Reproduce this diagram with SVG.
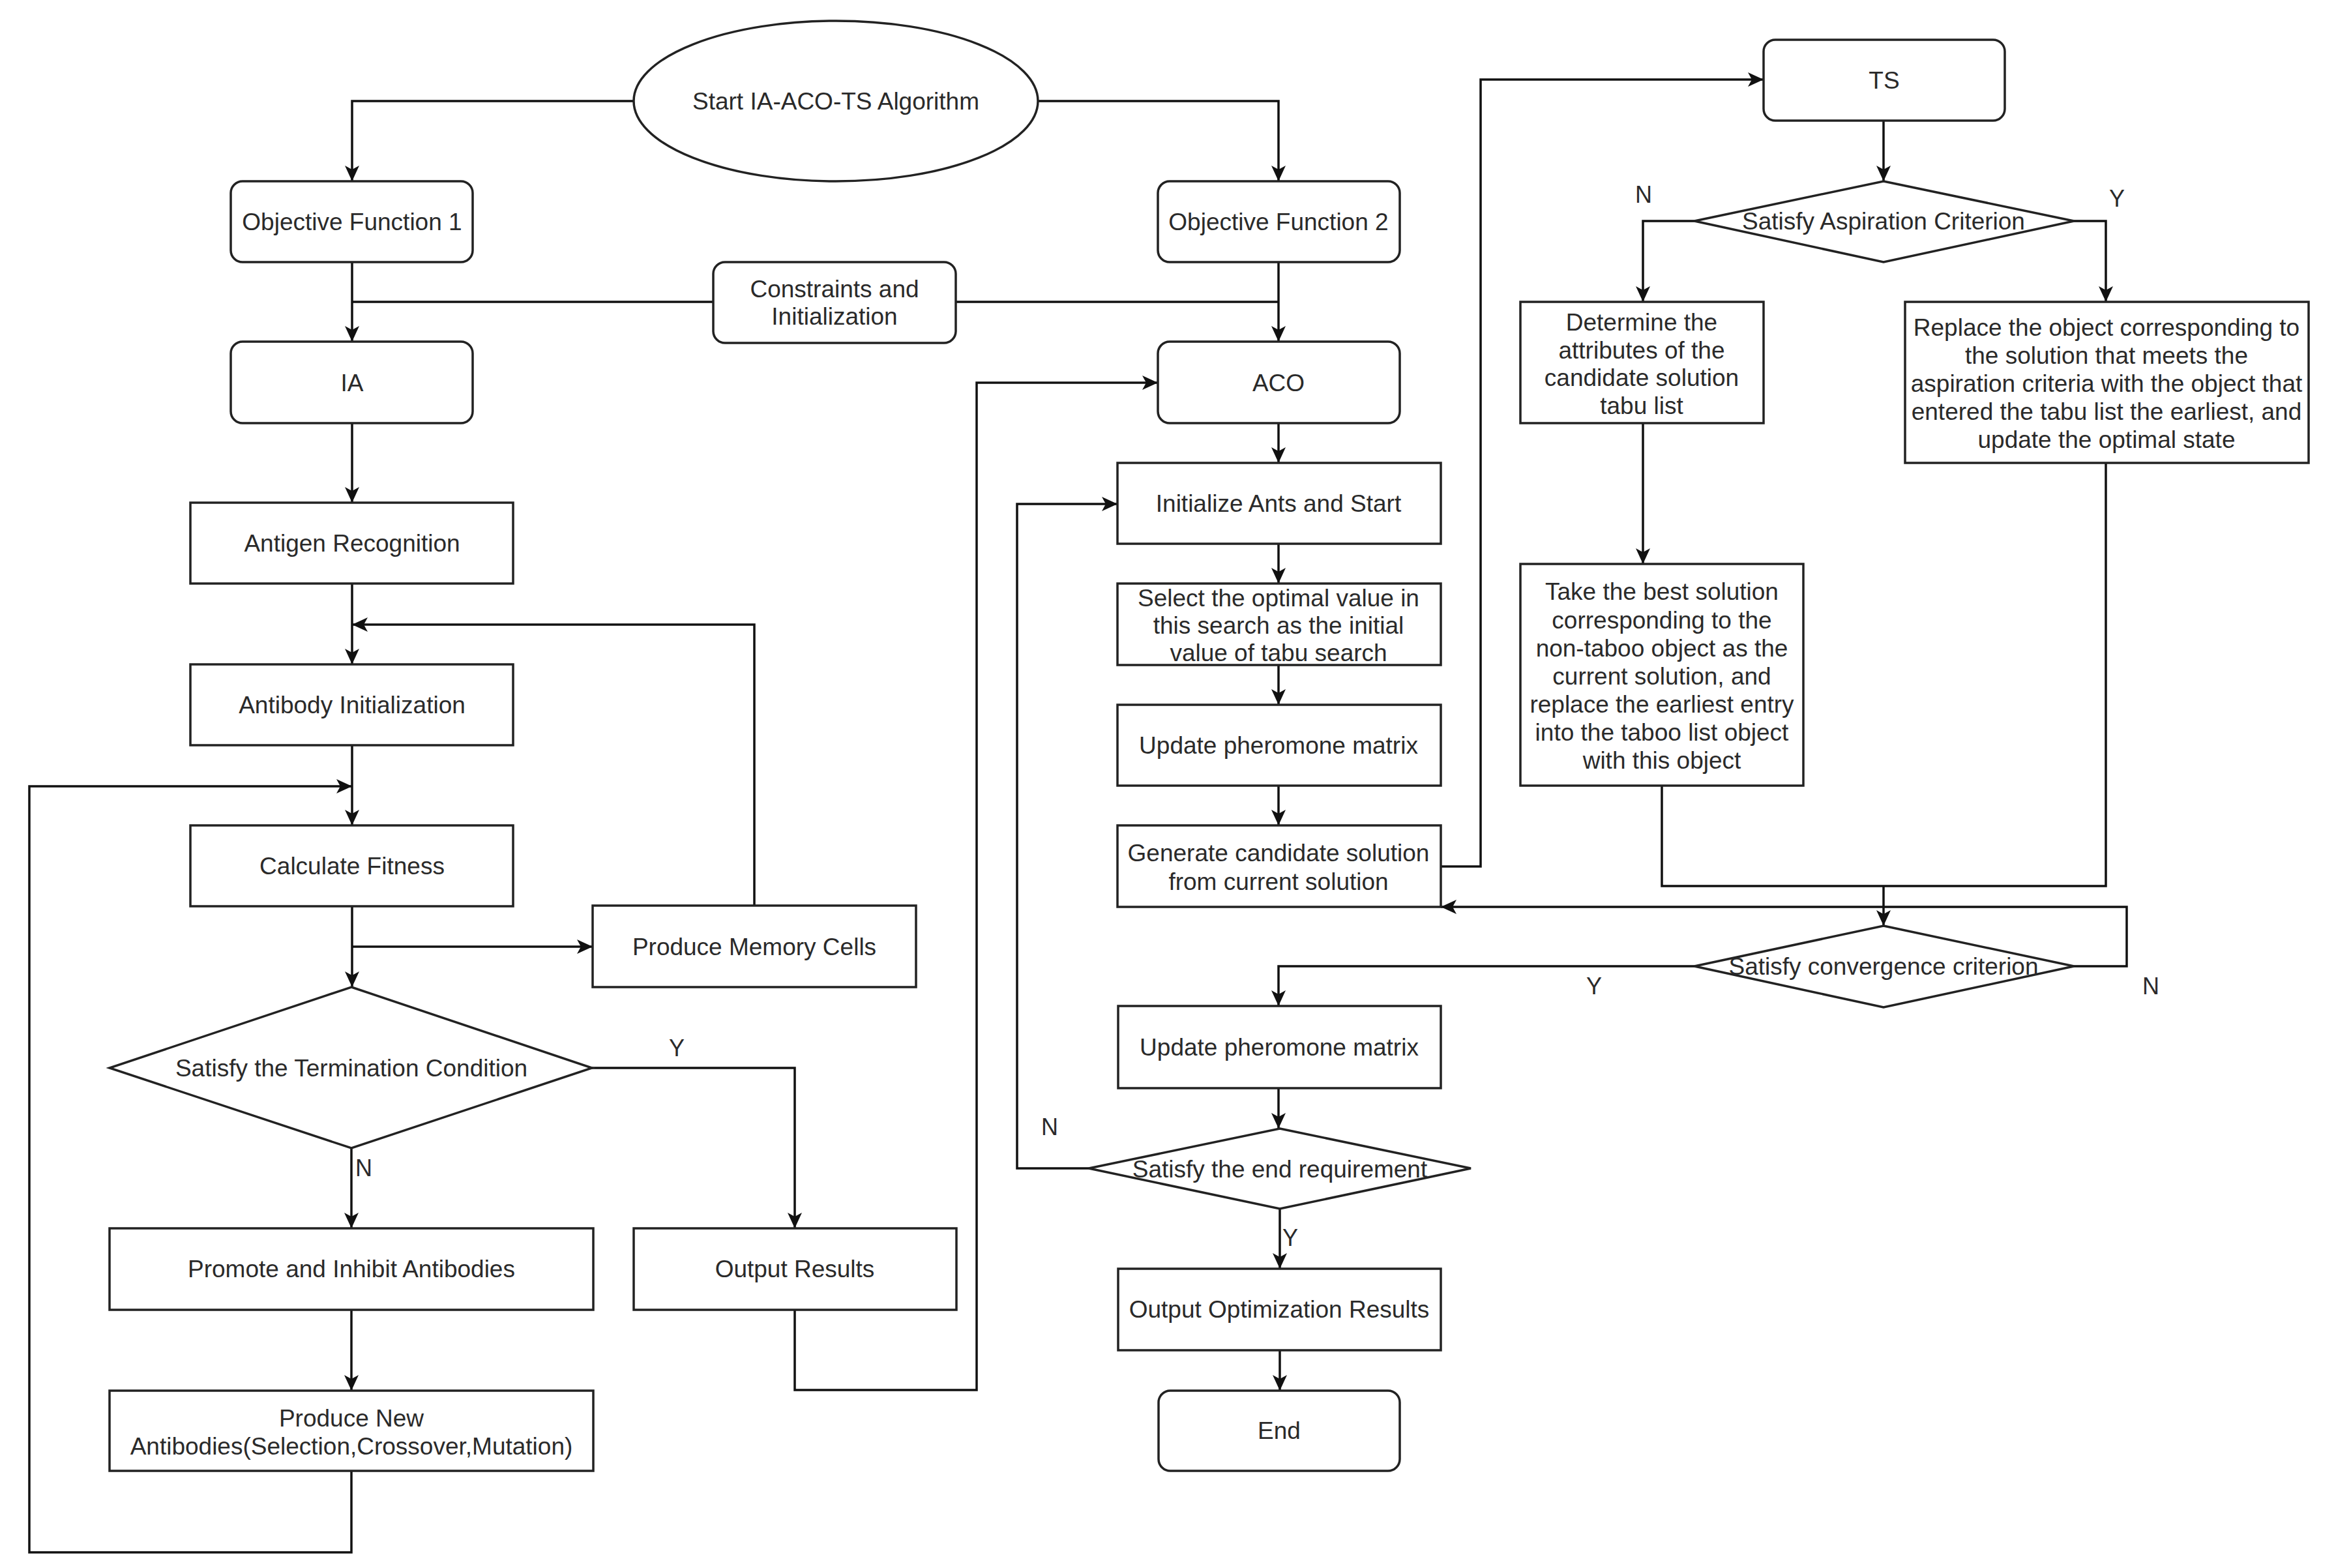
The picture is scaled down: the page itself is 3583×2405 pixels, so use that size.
<svg xmlns="http://www.w3.org/2000/svg" width="3583" height="2405" viewBox="0 0 3583 2405">
<style>
.n{fill:#fff;stroke:#222;stroke-width:3.5}
.t{font-family:"Liberation Sans",Arial,sans-serif;font-size:37px;fill:#2a2a2a;text-anchor:middle;dominant-baseline:central}
.l{font-family:"Liberation Sans",Arial,sans-serif;font-size:36px;fill:#2a2a2a;dominant-baseline:central}
.c{fill:none;stroke:#111;stroke-width:3.5}
</style>
<defs>
<marker id="a" markerUnits="userSpaceOnUse" markerWidth="30" markerHeight="30" viewBox="-2 -14 30 28" refX="24" refY="0" orient="auto">
<path d="M0,-11 L24,0 L0,11 L6,0 Z" fill="#111"/>
</marker>
</defs>
<rect width="3583" height="2405" fill="#fff"/>
<g id="connectors">
<path class="c" d="M972,155 H540 V278" marker-end="url(#a)"/>
<path class="c" d="M1592,155 H1961 V278" marker-end="url(#a)"/>
<path class="c" d="M540,402 V524" marker-end="url(#a)"/>
<path class="c" d="M1094,463 H540"/>
<path class="c" d="M1961,402 V524" marker-end="url(#a)"/>
<path class="c" d="M1466,463 H1961"/>
<path class="c" d="M540,649 V771" marker-end="url(#a)"/>
<path class="c" d="M540,895 V1019" marker-end="url(#a)"/>
<path class="c" d="M1157,1389 V958 H540" marker-end="url(#a)"/>
<path class="c" d="M540,1143 V1266" marker-end="url(#a)"/>
<path class="c" d="M539,2256 V2381 H45 V1206 H540" marker-end="url(#a)"/>
<path class="c" d="M540,1390 V1514" marker-end="url(#a)"/>
<path class="c" d="M540,1452 H909" marker-end="url(#a)"/>
<path class="c" d="M908,1638 H1219 V1884" marker-end="url(#a)"/>
<path class="c" d="M539,1761 V1884" marker-end="url(#a)"/>
<path class="c" d="M539,2009 V2133" marker-end="url(#a)"/>
<path class="c" d="M1219,2009 V2132 H1498 V587 H1776" marker-end="url(#a)"/>
<path class="c" d="M1961,649 V710" marker-end="url(#a)"/>
<path class="c" d="M1961,834 V895" marker-end="url(#a)"/>
<path class="c" d="M1961,1020 V1081" marker-end="url(#a)"/>
<path class="c" d="M1961,1205 V1266" marker-end="url(#a)"/>
<path class="c" d="M2210,1329 H2271 V122 H2705" marker-end="url(#a)"/>
<path class="c" d="M2889,185 V278" marker-end="url(#a)"/>
<path class="c" d="M2599,339 H2520 V463" marker-end="url(#a)"/>
<path class="c" d="M3181,339 H3230 V463" marker-end="url(#a)"/>
<path class="c" d="M2520,649 V865" marker-end="url(#a)"/>
<path class="c" d="M2549,1205 V1359 H3230 V710"/>
<path class="c" d="M2889,1359 V1420" marker-end="url(#a)"/>
<path class="c" d="M3181,1482 H3262 V1391 H2210" marker-end="url(#a)"/>
<path class="c" d="M2599,1482 H1961 V1543" marker-end="url(#a)"/>
<path class="c" d="M1961,1669 V1731" marker-end="url(#a)"/>
<path class="c" d="M1670,1792 H1560 V773 H1714" marker-end="url(#a)"/>
<path class="c" d="M1963,1854 V1946" marker-end="url(#a)"/>
<path class="c" d="M1963,2071 V2133" marker-end="url(#a)"/>
<text class="l" x="1026" y="1607">Y</text>
<text class="l" x="545" y="1791">N</text>
<text class="l" x="2508" y="298">N</text>
<text class="l" x="3235" y="304">Y</text>
<text class="l" x="2433" y="1512">Y</text>
<text class="l" x="3286" y="1512">N</text>
<text class="l" x="1597" y="1728">N</text>
<text class="l" x="1967" y="1898">Y</text>
</g>
<g id="start"><ellipse class="n" cx="1282" cy="155" rx="310" ry="123"/><text class="t" x="1282" y="155">Start IA-ACO-TS Algorithm</text></g>
<g id="obj1"><rect class="n" x="354" y="278" width="371" height="124" rx="18"/><text class="t" x="540" y="340">Objective Function 1</text></g>
<g id="obj2"><rect class="n" x="1776" y="278" width="371" height="124" rx="18"/><text class="t" x="1961" y="340">Objective Function 2</text></g>
<g id="constraints"><rect class="n" x="1094" y="402" width="372" height="124" rx="18"/><text class="t" x="1280" y="443">Constraints and</text><text class="t" x="1280" y="485">Initialization</text></g>
<g id="ia"><rect class="n" x="354" y="524" width="371" height="125" rx="18"/><text class="t" x="540" y="587">IA</text></g>
<g id="aco"><rect class="n" x="1776" y="524" width="371" height="125" rx="18"/><text class="t" x="1961" y="587">ACO</text></g>
<g id="antigen"><rect class="n" x="292" y="771" width="495" height="124"/><text class="t" x="540" y="833">Antigen Recognition</text></g>
<g id="antibody"><rect class="n" x="292" y="1019" width="495" height="124"/><text class="t" x="540" y="1081">Antibody Initialization</text></g>
<g id="fitness"><rect class="n" x="292" y="1266" width="495" height="124"/><text class="t" x="540" y="1328">Calculate Fitness</text></g>
<g id="memory"><rect class="n" x="909" y="1389" width="496" height="125"/><text class="t" x="1157" y="1452">Produce Memory Cells</text></g>
<g id="termination"><polygon class="n" points="539,1514 908,1638 539,1761 168,1638"/><text class="t" x="539" y="1638">Satisfy the Termination Condition</text></g>
<g id="promote"><rect class="n" x="168" y="1884" width="742" height="125"/><text class="t" x="539" y="1946">Promote and Inhibit Antibodies</text></g>
<g id="output"><rect class="n" x="972" y="1884" width="495" height="125"/><text class="t" x="1219" y="1946">Output Results</text></g>
<g id="produce-new"><rect class="n" x="168" y="2133" width="742" height="123"/><text class="t" x="539" y="2175">Produce New</text><text class="t" x="539" y="2218">Antibodies(Selection,Crossover,Mutation)</text></g>
<g id="init-ants"><rect class="n" x="1714" y="710" width="496" height="124"/><text class="t" x="1961" y="772">Initialize Ants and Start</text></g>
<g id="select"><rect class="n" x="1714" y="895" width="496" height="125"/><text class="t" x="1961" y="917">Select the optimal value in</text><text class="t" x="1961" y="959">this search as the initial</text><text class="t" x="1961" y="1001">value of tabu search</text></g>
<g id="update1"><rect class="n" x="1714" y="1081" width="496" height="124"/><text class="t" x="1961" y="1143">Update pheromone matrix</text></g>
<g id="generate"><rect class="n" x="1714" y="1266" width="496" height="125"/><text class="t" x="1961" y="1308">Generate candidate solution</text><text class="t" x="1961" y="1352">from current solution</text></g>
<g id="update2"><rect class="n" x="1715" y="1543" width="495" height="126"/><text class="t" x="1962" y="1606">Update pheromone matrix</text></g>
<g id="end-req"><polygon class="n" points="1963,1731 2256,1792 1963,1854 1670,1792"/><text class="t" x="1963" y="1793">Satisfy the end requirement</text></g>
<g id="output-opt"><rect class="n" x="1715" y="1946" width="495" height="125"/><text class="t" x="1962" y="2008">Output Optimization Results</text></g>
<g id="end"><rect class="n" x="1777" y="2133" width="370" height="123" rx="18"/><text class="t" x="1962" y="2194">End</text></g>
<g id="ts"><rect class="n" x="2705" y="61" width="370" height="124" rx="18"/><text class="t" x="2890" y="123">TS</text></g>
<g id="aspiration"><polygon class="n" points="2889,278 3181,339 2889,402 2599,339"/><text class="t" x="2889" y="339">Satisfy Aspiration Criterion</text></g>
<g id="determine"><rect class="n" x="2332" y="463" width="373" height="186"/><text class="t" x="2518" y="494">Determine the</text><text class="t" x="2518" y="537">attributes of the</text><text class="t" x="2518" y="579">candidate solution</text><text class="t" x="2518" y="622">tabu list</text></g>
<g id="replace"><rect class="n" x="2922" y="463" width="619" height="247"/><text class="t" x="3231" y="502">Replace the object corresponding to</text><text class="t" x="3231" y="545">the solution that meets the</text><text class="t" x="3231" y="588">aspiration criteria with the object that</text><text class="t" x="3231" y="631">entered the tabu list the earliest, and</text><text class="t" x="3231" y="674">update the optimal state</text></g>
<g id="take-best"><rect class="n" x="2332" y="865" width="434" height="340"/><text class="t" x="2549" y="907">Take the best solution</text><text class="t" x="2549" y="951">corresponding to the</text><text class="t" x="2549" y="994">non-taboo object as the</text><text class="t" x="2549" y="1037">current solution, and</text><text class="t" x="2549" y="1080">replace the earliest entry</text><text class="t" x="2549" y="1123">into the taboo list object</text><text class="t" x="2549" y="1166">with this object</text></g>
<g id="convergence"><polygon class="n" points="2889,1420 3181,1482 2889,1545 2599,1482"/><text class="t" x="2889" y="1482">Satisfy convergence criterion</text></g>
</svg>
